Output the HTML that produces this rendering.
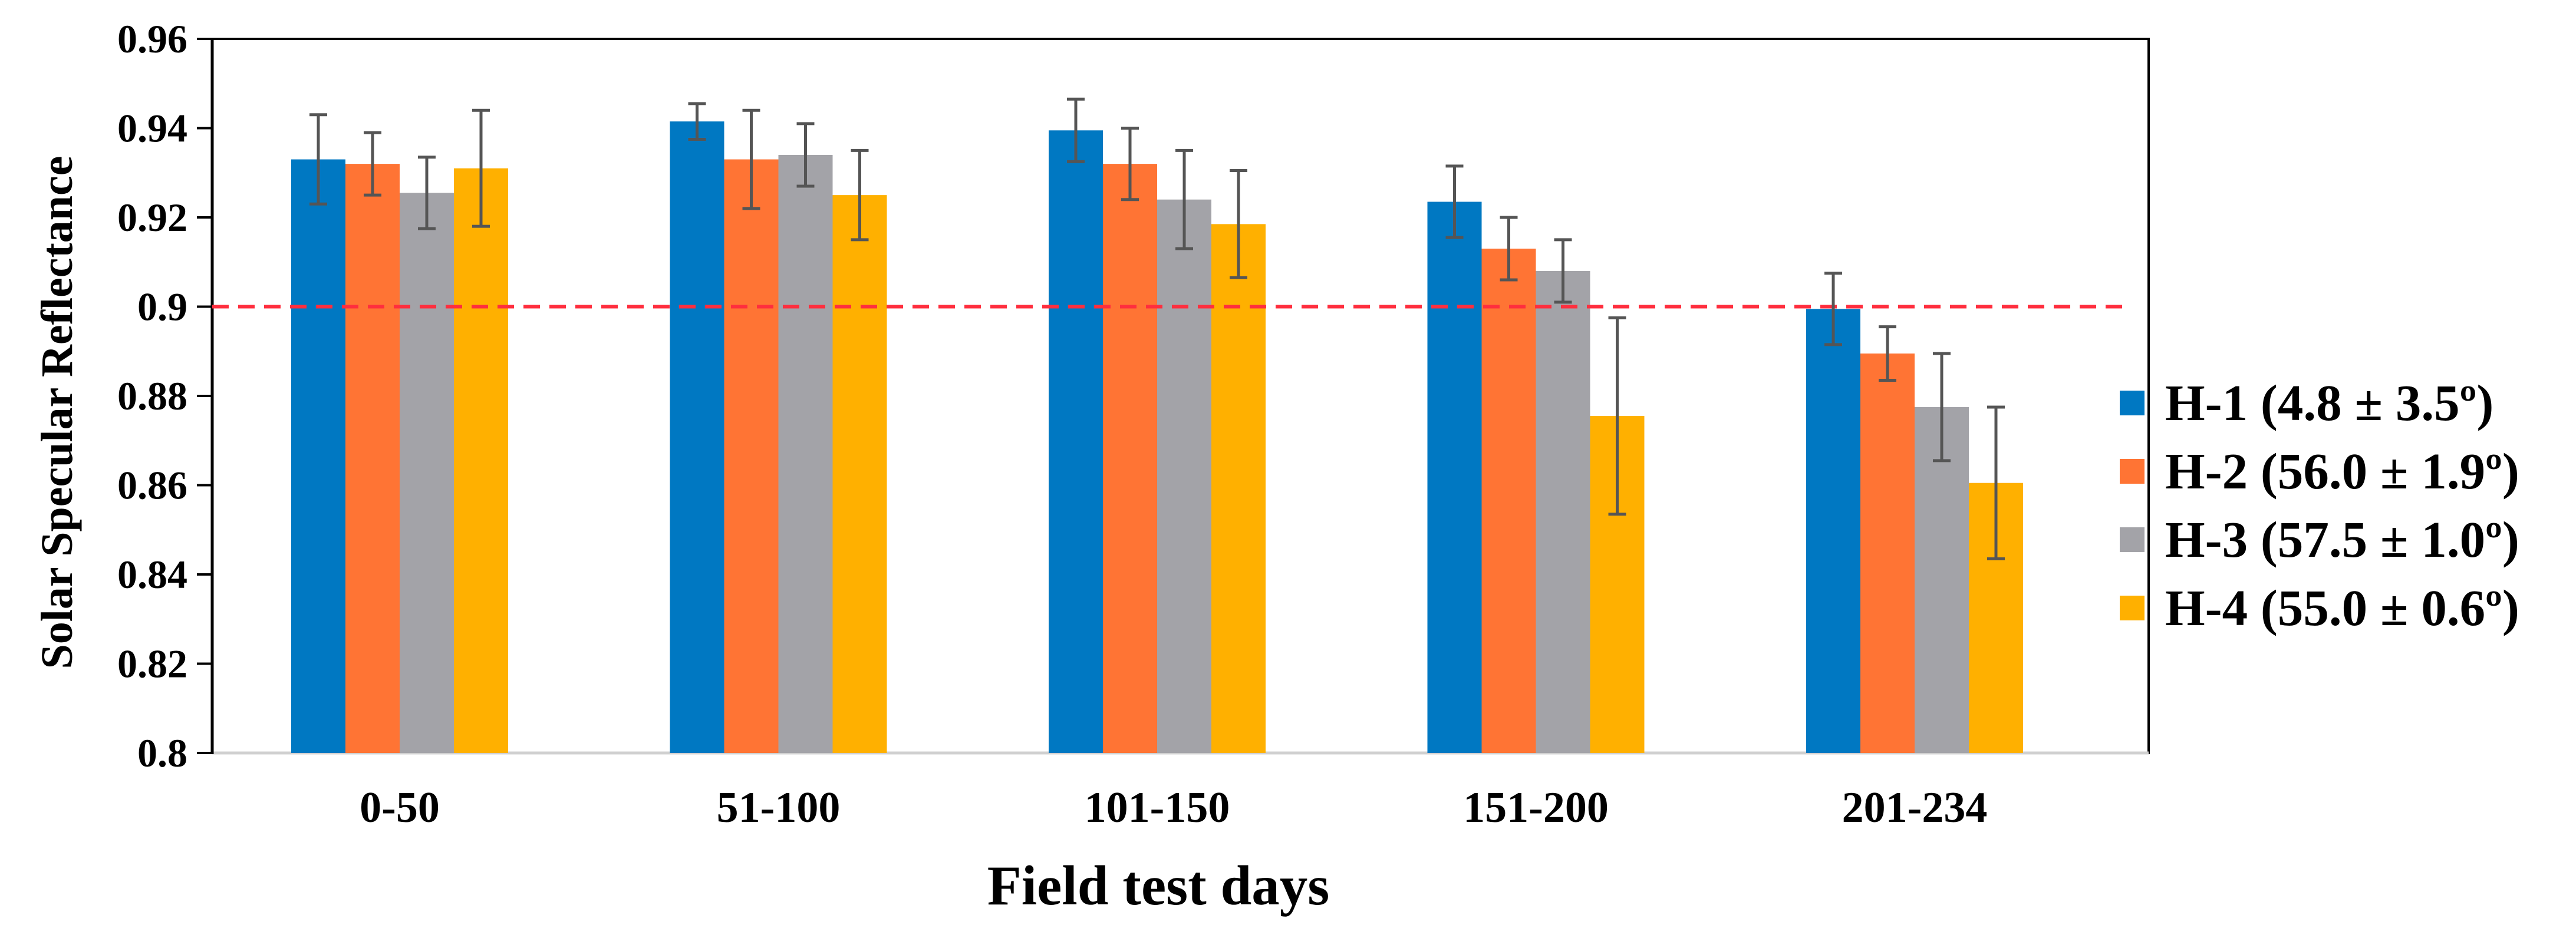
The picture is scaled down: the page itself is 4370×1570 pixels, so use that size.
<!DOCTYPE html>
<html><head><meta charset="utf-8"><style>
html,body{margin:0;padding:0;background:#fff;}
svg{display:block;font-family:"Liberation Serif",serif;font-weight:bold;}
</style></head><body>
<svg id="chart" width="4370" height="1570" viewBox="0 0 4370 1570" xmlns="http://www.w3.org/2000/svg"></svg>
<script>
const categories = ["0-50","51-100","101-150","151-200","201-234"];
const seriesNames = ["H-1 (4.8 \u00b1 3.5\u00ba)","H-2 (56.0 \u00b1 1.9\u00ba)","H-3 (57.5 \u00b1 1.0\u00ba)","H-4 (55.0 \u00b1 0.6\u00ba)"];
const h1 = [0.933,0.9415,0.9395,0.9235,0.8995];
const h2 = [0.932,0.933,0.932,0.913,0.8895];
const h3 = [0.9255,0.934,0.924,0.908,0.8775];
const h4 = [0.931,0.925,0.9185,0.8755,0.8605];
const e1 = [0.010,0.004,0.007,0.008,0.008];
const e2 = [0.007,0.011,0.008,0.007,0.006];
const e3 = [0.008,0.007,0.011,0.007,0.012];
const e4 = [0.013,0.010,0.012,0.022,0.017];
const yTicks = [0.8,0.82,0.84,0.86,0.88,0.9,0.92,0.94,0.96];
const yTickLabels = ["0.8","0.82","0.84","0.86","0.88","0.9","0.92","0.94","0.96"];
const threshold = 0.9;

const colors = ["#0078C2","#FF7434","#A3A3A8","#FFB000"];
const X0=360, X1=3645, Y0=1278, Y1=66, YMIN=0.8, YMAX=0.96;
const C0=678, BAND=642.5, BW=92;
const svg=document.getElementById('chart');
const NS="http://www.w3.org/2000/svg";
function yS(v){return Y0-(v-YMIN)/(YMAX-YMIN)*(Y0-Y1);}
function cS(ci){return C0+BAND*ci;}
function xS(ci,si){return cS(ci)+(si-2)*BW;}
function mk(tag,attrs,parent){const e=document.createElementNS(NS,tag);for(const k in attrs)e.setAttribute(k,attrs[k]);(parent||svg).appendChild(e);return e;}

let f=mk('rect',{x:X0,y:Y1,width:X1-X0,height:Y0-Y1,fill:'none',stroke:'#000','stroke-width':4});


let xa=mk('line',{x1:X0,y1:Y0,x2:X1,y2:Y0,stroke:'#d0d0d0','stroke-width':5});


let ya=mk('line',{x1:X0,y1:Y1-2,x2:X0,y2:Y0+2,stroke:'#000','stroke-width':5});


yTicks.forEach((v,i)=>{
  let t=mk('line',{x1:X0-26,y1:yS(v),x2:X0,y2:yS(v),stroke:'#000','stroke-width':4});
  
  
  let l=mk('text',{x:318,y:yS(v)+23,'text-anchor':'end','font-size':68,fill:'#000'});
  l.textContent=yTickLabels[i];
  
  
});
const vals=[h1,h2,h3,h4], errs=[e1,e2,e3,e4];
categories.forEach((c,ci)=>{
  vals.forEach((s,si)=>{
    const x=xS(ci,si), y=yS(s[ci]);
    let r=mk('rect',{x:x,y:y,width:BW,height:Y0-y,fill:colors[si]});
    
    
  });
  let l=mk('text',{x:cS(ci),y:1395,'text-anchor':'middle','font-size':74,fill:'#000'});
  l.textContent=c;
  
  
});
let th=mk('line',{x1:X0,y1:yS(threshold),x2:3615,y2:yS(threshold),stroke:'#FF2E3E','stroke-width':6,'stroke-dasharray':'28 16'});


categories.forEach((c,ci)=>{
  vals.forEach((s,si)=>{
    const cx=xS(ci,si)+BW/2, yt=yS(s[ci]+errs[si][ci]), yb=yS(s[ci]-errs[si][ci]);
    const g=mk('g',{stroke:'#555','stroke-width':5});
    
    
    mk('line',{x1:cx,y1:yt,x2:cx,y2:yb},g);
    mk('line',{x1:cx-15,y1:yt,x2:cx+15,y2:yt},g);
    mk('line',{x1:cx-15,y1:yb,x2:cx+15,y2:yb},g);
  });
});
seriesNames.forEach((n,i)=>{
  const y=684+i*116;
  const g=mk('g',{});
  
  
  mk('rect',{x:3596,y:y-21,width:42,height:42,fill:colors[i]},g);
  const t=mk('text',{x:3673,y:y+29,'font-size':87,fill:'#000'},g);
  t.textContent=n;
});
let yt=mk('text',{x:0,y:0,'text-anchor':'middle','font-size':76,fill:'#000',transform:'translate(122,700) rotate(-90)'});
yt.textContent='Solar Specular Reflectance';


let xt=mk('text',{x:1965,y:1535,'text-anchor':'middle','font-size':95,fill:'#000'});
xt.textContent='Field test days';


</script>
</body></html>
